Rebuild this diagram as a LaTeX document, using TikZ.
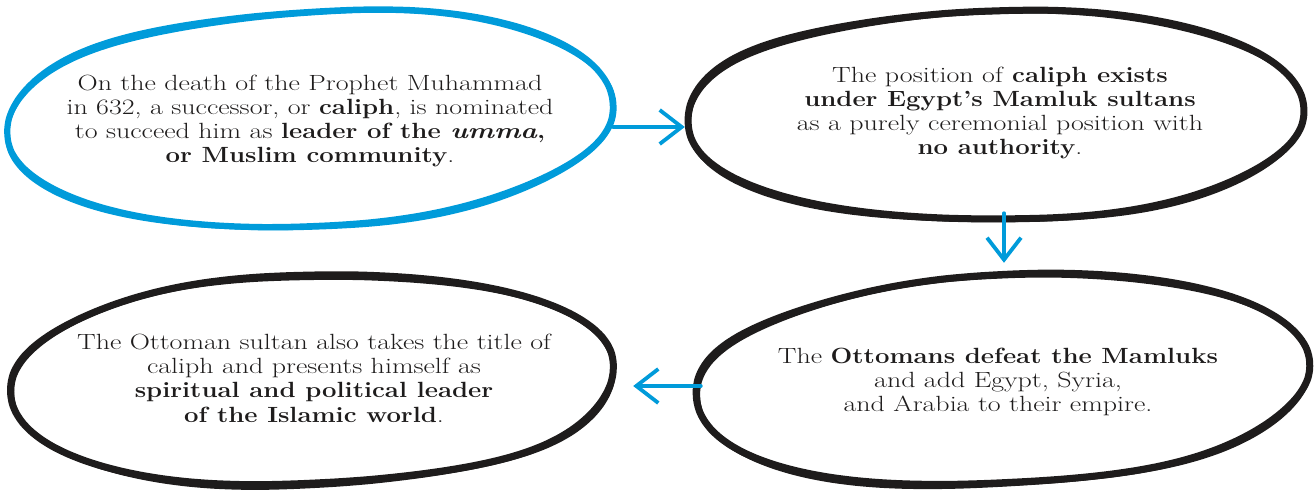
\documentclass[tikz,border=0pt]{standalone}
\usepackage{fontspec}
\setmainfont{Latin Modern Roman}[FakeStretch=1.27, BoldFeatures={FakeStretch=1.17}]
\usetikzlibrary{shapes.geometric,arrows.meta}

\definecolor{calblue}{RGB}{0,155,218}
\definecolor{ink}{RGB}{30,28,28}

\tikzset{
  stage/.style={ellipse, draw=none, inner sep=0pt},
  caption/.style={align=center, text=ink, inner sep=0pt,
                  font=\fontsize{22}{24.3}\selectfont},
  outline/.style={line width=7pt, line join=round, ink},
  blueline/.style={line width=6.2pt, line join=round, calblue},
  link/.style={calblue, line width=3.8pt, line cap=round,
               -{Straight Barb[length=22pt,width=34pt,line width=3.8pt]}},
}

% hand-drawn rounded oval (superellipse with a gentle wobble),
% stroked twice with a small offset to roughen the line
% args: options, cx, cy, rx, ry, phase, tilt
\newcommand{\roughoval}[7]{%
  \draw[#1, rotate around={#7:(#2,#3)}]
    plot[smooth cycle, variable=\t, samples=72, domain=2.5:357.5]
    ({#2+#4*sign(cos(\t))*pow(abs(cos(\t)),0.9)+1.6*sin(3*\t+#6)+0.7*cos(5*\t+2*#6)},
     {#3+#5*sign(sin(\t))*pow(abs(sin(\t)),0.95)+1.4*cos(4*\t+#6)+0.5*sin(6*\t+#6)});
  \draw[#1, line width=4.5pt, rotate around={#7:(#2,#3)}, yshift=-2pt, xshift=0.6pt]
    plot[smooth cycle, variable=\t, samples=72, domain=2.5:357.5]
    ({#2+#4*sign(cos(\t))*pow(abs(cos(\t)),0.9)+1.6*sin(3*\t+#6+40)+0.7*cos(5*\t+2*#6)},
     {#3+#5*sign(sin(\t))*pow(abs(sin(\t)),0.95)+1.4*cos(4*\t+#6+40)+0.5*sin(6*\t+#6)});}

\begin{document}
\begin{tikzpicture}[x=1pt,y=-1pt]
  \useasboundingbox (0,0) rectangle (1315,495);

  % the four ovals
  \node[stage, minimum width=606pt, minimum height=218pt] (n1) at (310,119) {};
  \node[stage, minimum width=616pt, minimum height=212pt] (n2) at (996,116) {};
  \node[stage, minimum width=614pt, minimum height=212pt] (n3) at (1003,382) {};
  \node[stage, minimum width=606pt, minimum height=212pt] (n4) at (312,381) {};

  \roughoval{blueline}{310}{118}{302}{107}{20}{3}
  \roughoval{outline}{996}{115}{307}{104}{75}{1}
  \roughoval{outline}{1003}{380}{306}{104}{140}{3}
  \roughoval{outline}{312}{380}{302}{104}{210}{2}

  % texts
  \node[caption] (t1) at (310,121)
    {On the death of the Prophet Muhammad\\
     in 632, a successor, or \textbf{caliph}, is nominated\\
     to succeed him as \textbf{leader of the \textit{umma},}\\
     \textbf{or Muslim community}.};
  \node[caption] (t2) at (1000,113)
    {The position of \textbf{caliph exists}\\
     \textbf{under Egypt's Mamluk sultans}\\
     as a purely ceremonial position with\\
     \textbf{no authority}.};
  \node[caption] (t3) at (998,382)
    {The \textbf{Ottomans defeat the Mamluks}\\
     and add Egypt, Syria,\\
     and Arabia to their empire.};
  \node[caption] (t4) at (314,378)
    {The Ottoman sultan also takes the title of\\
     caliph and presents himself as\\
     \textbf{spiritual and political leader}\\
     \textbf{of the Islamic world}.};

  % connectors
  \coordinate (a1) at ([yshift=-8pt]n1.east);
  \draw[link, shorten >=3pt] (a1) -- (a1 -| n2.west);
  \coordinate (a2) at ([xshift=8pt,yshift=9pt]n2.south);
  \draw[link, shorten >=13pt] (a2) -- (a2 |- n3.north);
  \coordinate (a3) at ([xshift=5pt,yshift=-4pt]n3.west);
  \draw[link, shorten >=18pt] (a3) -- (a3 -| n4.east);
\end{tikzpicture}
\end{document}
